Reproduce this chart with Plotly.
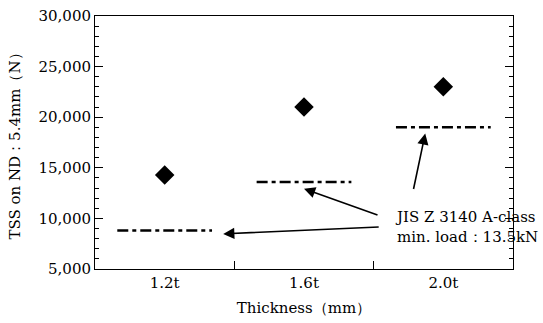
import plotly.graph_objects as go

categories = ["1.2t", "1.6t", "2.0t"]
tss_values = [14300, 21000, 23000]
min_load = [8800, 13600, 19000]
y_ticks = [5000, 10000, 15000, 20000, 25000, 30000]
y_tick_labels = ["5,000", "10,000", "15,000", "20,000", "25,000", "30,000"]

SERIF = "DejaVu Serif"
half = 0.34
xpos = list(range(len(categories)))

fig = go.Figure()

# dash-dot minimum-load segments
lx, ly = [], []
for i, v in zip(xpos, min_load):
    lx += [i - half, i + half, None]
    ly += [v, v, None]
fig.add_trace(go.Scatter(x=lx, y=ly, mode="lines",
                         line=dict(color="black", width=2.5, dash="11px,4px,4px,4px"),
                         hoverinfo="skip", showlegend=False))

fig.add_trace(go.Scatter(x=xpos, y=tss_values, mode="markers",
                         marker=dict(symbol="diamond", size=15, color="black"),
                         showlegend=False))

# arrows from label to each minimum-load line
arrow_tips = [(0 + 0.42, 8470, 157, -7),
              (1 + 0.0, 12940, 75, 27),
              (2 - 0.13, 18390, -12, 57)]
for tx, ty, ax, ay in arrow_tips:
    fig.add_annotation(x=tx, y=ty, xref="x", yref="y", ax=ax, ay=ay,
                       axref="pixel", ayref="pixel", text="", showarrow=True,
                       arrowhead=2, arrowsize=1.4, arrowwidth=1.6, arrowcolor="black")

fig.add_annotation(x=0.713, y=0.167, xref="paper", yref="paper",
                   xanchor="left", yanchor="middle", align="left", showarrow=False,
                   text="JIS Z 3140 A-class<br>min. load：13.5kN",
                   font=dict(family=SERIF, size=15, color="black"))

fig.update_layout(
    width=543, height=323,
    margin=dict(l=95, r=30, t=16, b=54, autoexpand=False),
    plot_bgcolor="white", paper_bgcolor="white",
    font=dict(family=SERIF, size=14, color="black"),
)
fig.update_xaxes(
    range=[-0.5, 2.5], tickmode="array", tickvals=xpos, ticktext=categories,
    ticks="", showgrid=False, zeroline=False, automargin=False,
    showline=True, linecolor="black", linewidth=1, mirror=True,
    minor=dict(tickmode="array", tickvals=[0.5, 1.5], ticks="inside", ticklen=8,
               tickcolor="black", showgrid=False),
    title=dict(text="Thickness（mm）", font=dict(family=SERIF, size=15), standoff=11),
    tickfont=dict(family=SERIF, size=15),
)
fig.update_yaxes(
    range=[5000, 30000], tickmode="array", tickvals=y_ticks, ticktext=y_tick_labels,
    ticks="inside", ticklen=8, tickcolor="black", showgrid=False, zeroline=False,
    automargin=False,
    showline=True, linecolor="black", linewidth=1, mirror="ticks",
    minor=dict(dtick=1000, tick0=5000, ticks="inside", ticklen=4, tickcolor="black", showgrid=False),
    title=dict(text="TSS on ND：5.4mm（N）", font=dict(family=SERIF, size=15), standoff=14),
    tickfont=dict(family=SERIF, size=15),
)

# remove the browser's default 8px body margin so the figure fills the window
fig.write_html("out.html", config={"displayModeBar": False},
               post_script="document.body.style.margin='0px';document.body.style.overflow='hidden';")
